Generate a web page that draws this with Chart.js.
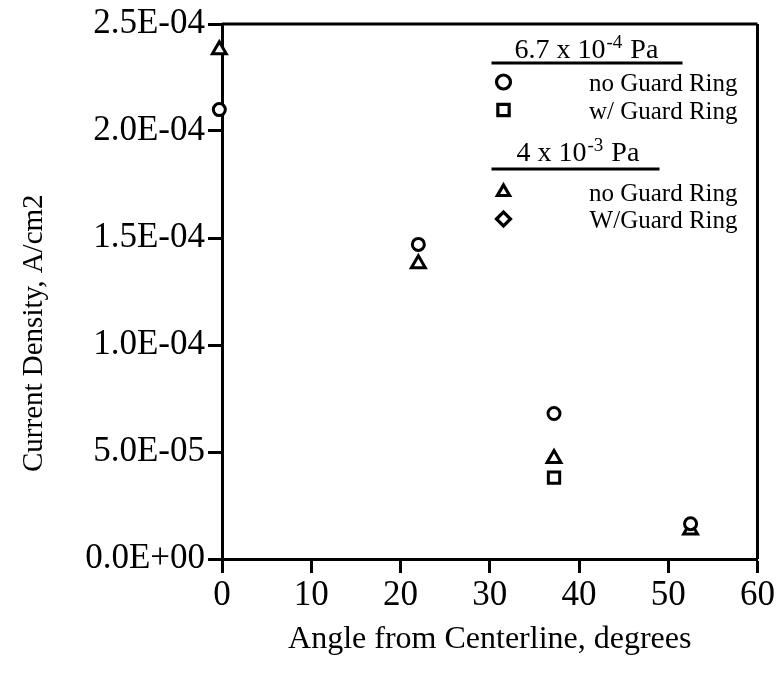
<!DOCTYPE html>
<html>
<head>
<meta charset="utf-8">
<script src="https://cdn.jsdelivr.net/npm/chart.js@4"></script>
<style>
html,body{margin:0;padding:0;background:#fff;}
#wrap{width:777px;height:683px;}
</style>
</head>
<body>
<div id="wrap"><canvas id="c" width="777" height="683"></canvas></div>
<script>
// ---- data ----
const xTicks = [0, 10, 20, 30, 40, 50, 60];
const yTicks = [0, 5e-5, 1e-4, 1.5e-4, 2e-4, 2.5e-4];

const lowNoRingX = [-0.3, 22, 37.2, 52.5];
const lowNoRingY = [2.10e-4, 1.47e-4, 6.8e-5, 1.65e-5];

const lowRingX = [37.2];
const lowRingY = [3.8e-5];

const highNoRingX = [-0.3, 22, 37.2, 52.5];
const highNoRingY = [2.38e-4, 1.38e-4, 4.7e-5, 1.35e-5];

const highRingX = [];
const highRingY = [];

const legendGroups = [
  { base: "6.7 x 10", exp: "-4", unit: " Pa",
    rows: [ { style: "circle", label: "no Guard Ring" }, { style: "rect", label: "w/ Guard Ring" } ] },
  { base: "4 x 10", exp: "-3", unit: " Pa",
    rows: [ { style: "triangle", label: "no Guard Ring" }, { style: "rectRot", label: "W/Guard Ring" } ] }
];

const yTitle = "Current Density, A/cm2";
const xTitle = "Angle from Centerline, degrees";

function pts(xs, ys) { return xs.map((x, i) => ({ x: x, y: ys[i] })); }

function fmtE(v) {
  if (Math.abs(v) < 1e-12) return "0.0E+00";
  const s = v.toExponential(1);
  const m = s.split("e");
  let e = parseInt(m[1], 10);
  const sign = e < 0 ? "-" : "+";
  e = Math.abs(e);
  return m[0] + "E" + sign + (e < 10 ? "0" + e : "" + e);
}

const SERIF = "'Liberation Serif', 'DejaVu Serif', serif";

const frame = {
  id: "frame",
  afterDatasetsDraw(chart) {
    const a = chart.chartArea, ctx = chart.ctx;
    ctx.save();
    ctx.strokeStyle = "#000";
    ctx.lineWidth = 3;
    ctx.beginPath();
    ctx.moveTo(a.left, a.top); ctx.lineTo(a.right, a.top);
    ctx.moveTo(a.right, a.top); ctx.lineTo(a.right, a.bottom);
    ctx.stroke();
    ctx.restore();
  }
};

const yTitlePlugin = {
  id: "yTitlePlugin",
  afterDraw(chart) {
    const ctx = chart.ctx;
    const a = chart.chartArea;
    ctx.save();
    ctx.translate(34, a.top + (a.bottom - a.top) * 0.578);
    ctx.rotate(-Math.PI / 2);
    ctx.fillStyle = "#000";
    ctx.font = "29px " + SERIF;
    ctx.textAlign = "center";
    ctx.textBaseline = "middle";
    ctx.fillText(yTitle, 0, 0);
    ctx.restore();
  }
};

const customLegend = {
  id: "customLegend",
  afterDraw(chart) {
    const ctx = chart.ctx;
    const a = chart.chartArea;
    ctx.save();
    const markerX = a.right - 254;
    const textRight = a.right - 20;
    const layout = [
      { base: 34, line: 39, rows: [58, 86], lineEnd: a.right - 75, hx: a.right - 243 },
      { base: 137, line: 145, rows: [168, 195], lineEnd: a.right - 98, hx: a.right - 241 }
    ];
    legendGroups.forEach((g, gi) => {
      const L = layout[gi];
      const hf = "28px " + SERIF, sf = "19px " + SERIF;
      ctx.font = hf; const w1 = ctx.measureText(g.base).width;
      ctx.font = sf; const w2 = ctx.measureText(g.exp).width;
      ctx.fillStyle = "#000";
      ctx.textBaseline = "alphabetic";
      ctx.textAlign = "left";
      const y = a.top + L.base;
      ctx.font = hf; ctx.fillText(g.base, L.hx, y);
      ctx.font = sf; ctx.fillText(g.exp, L.hx + w1 + 1, y - 10);
      ctx.font = hf; ctx.fillText(g.unit, L.hx + w1 + w2 + 2, y);
      ctx.strokeStyle = "#000";
      ctx.lineWidth = 3;
      ctx.beginPath();
      ctx.moveTo(a.right - 266, a.top + L.line);
      ctx.lineTo(L.lineEnd, a.top + L.line);
      ctx.stroke();
      g.rows.forEach((r, ri) => {
        const ry = a.top + L.rows[ri];
        const opts = { pointStyle: r.style, radius: r.style === "rect" ? 8 : 7, rotation: 0, borderWidth: 3 };
        ctx.lineWidth = 3.2;
        ctx.fillStyle = "#fff";
        ctx.strokeStyle = "#000";
        Chart.helpers.drawPoint(ctx, opts, markerX, ry);
        ctx.fillStyle = "#000";
        ctx.font = "25px " + SERIF;
        ctx.textAlign = "right";
        ctx.textBaseline = "middle";
        ctx.fillText(r.label, textRight, ry + 2);
      });
    });
    ctx.restore();
  }
};

function ds(label, data, style, radius) {
  return {
    label: label, data: data, pointStyle: style, pointRadius: radius,
    pointHoverRadius: radius, pointBorderWidth: 3, pointBorderColor: "#000",
    pointBackgroundColor: "#fff", borderColor: "#000", backgroundColor: "#fff",
    showLine: false, clip: false
  };
}

new Chart(document.getElementById("c"), {
  type: "scatter",
  data: {
    datasets: [
      ds("6.7e-4 no Guard Ring", pts(lowNoRingX, lowNoRingY), "circle", 6),
      ds("6.7e-4 w/ Guard Ring", pts(lowRingX, lowRingY), "rect", 8),
      ds("4e-3 no Guard Ring", pts(highNoRingX, highNoRingY), "triangle", 8),
      ds("4e-3 W/Guard Ring", pts(highRingX, highRingY), "rectRot", 7)
    ]
  },
  options: {
    responsive: false,
    animation: false,
    events: [],
    layout: { padding: { left: 0, right: 19, top: 22, bottom: 0 } },
    plugins: { legend: { display: false }, tooltip: { enabled: false } },
    scales: {
      x: {
        type: "linear", min: 0, max: 60,
        afterFit(s) { s.height = 124; },
        afterBuildTicks(s) { s.ticks = xTicks.map(v => ({ value: v })); },
        ticks: { color: "#000", font: { family: SERIF, size: 35 }, padding: 2, maxRotation: 0 },
        grid: { drawOnChartArea: false, drawTicks: true, tickLength: 14, tickWidth: 3, tickColor: "#000" },
        border: { display: true, color: "#000", width: 3 },
        title: { display: true, text: xTitle, color: "#000", font: { family: SERIF, size: 32 }, padding: 24 }
      },
      y: {
        type: "linear", min: 0, max: 2.5e-4,
        afterFit(s) { s.width = 222; },
        afterBuildTicks(s) { s.ticks = yTicks.map(v => ({ value: v })); },
        ticks: { color: "#000", font: { family: SERIF, size: 35 }, padding: 3, callback: v => fmtE(v) },
        grid: { drawOnChartArea: false, drawTicks: true, tickLength: 14, tickWidth: 3, tickColor: "#000" },
        border: { display: true, color: "#000", width: 3 },
        title: { display: false }
      }
    }
  },
  plugins: [frame, yTitlePlugin, customLegend]
});
</script>
</body>
</html>
